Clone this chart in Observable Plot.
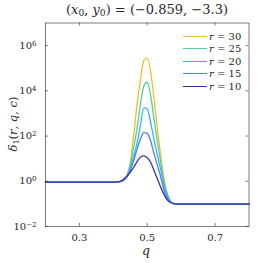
<!DOCTYPE html>
<html><head><meta charset="utf-8">
<script src="https://cdn.jsdelivr.net/npm/d3@7"></script>
<script src="https://cdn.jsdelivr.net/npm/@observablehq/plot@0.6"></script>
<style>
body{margin:0;background:#fff;}
#wrap{position:relative;width:275px;height:263px;font-family:"DejaVu Serif",serif;color:#262626;}
#title{position:absolute;top:2px;left:45px;width:204px;text-align:center;font-size:13px;white-space:nowrap;}
#ylab{position:absolute;left:13px;top:124px;transform:translate(-50%,-50%) rotate(-90deg);font-size:11.5px;white-space:nowrap;}
#xlab{position:absolute;left:146px;top:243px;transform:translateX(-50%);font-size:12.5px;font-style:italic;}
#legend{position:absolute;left:183px;top:30px;font-size:10px;}
.lrow{display:flex;align-items:center;height:12.5px;}
.lsw{width:24px;height:0;border-top:1.3px solid;margin-right:2px;}
i{font-style:italic;}
sub{font-size:0.7em;vertical-align:-0.25em;line-height:0;}
</style></head><body>
<div id="wrap">
<div id="title">(<i>x</i><sub>0</sub>, <i>y</i><sub>0</sub>) = (−0.859, −3.3)</div>
<div id="chart"></div>
<div id="ylab"><i>δ</i><sub>1</sub>(<i>r</i>, <i>q</i>, <i>c</i>)</div>
<div id="xlab">q</div>
<div id="legend"></div>
</div>
<script>
const q = [0.20, 0.30, 0.40, 0.41, 0.42, 0.43, 0.44, 0.45, 0.46, 0.47, 0.48, 0.49, 0.50, 0.51, 0.52, 0.53, 0.54, 0.55, 0.56, 0.57, 0.58, 0.59, 0.60, 0.70, 0.80];
const rValues = [30, 25, 20, 15, 10];
const colors = ["#F2BC2E", "#4FD49E", "#36B3EC", "#4F7DF6", "#3D33A6"];
// log10 of delta_1
const log10Delta_r30 = [-0.04, -0.04, -0.04, -0.035, -0.02, 0.04, 0.25, 0.85, 2.05, 3.4, 4.5, 5.35, 5.45, 4.85, 3.65, 2.3, 1.1, 0.05, -0.6, -0.9, -0.99, -1.01, -1.01, -1.01, -1.01];
const log10Delta_r25 = [-0.04, -0.04, -0.04, -0.035, -0.02, 0.04, 0.23, 0.72, 1.5, 2.35, 3.4, 4.22, 4.38, 3.8, 2.75, 1.75, 0.8, -0.1, -0.62, -0.91, -0.99, -1.01, -1.01, -1.01, -1.01];
const log10Delta_r20 = [-0.04, -0.04, -0.04, -0.035, -0.02, 0.04, 0.2, 0.58, 1.1, 1.7, 2.5, 3.25, 3.2, 2.6, 1.85, 1.15, 0.5, -0.2, -0.66, -0.92, -0.99, -1.01, -1.01, -1.01, -1.01];
const log10Delta_r15 = [-0.04, -0.04, -0.04, -0.035, -0.01, 0.06, 0.2, 0.48, 0.92, 1.42, 1.88, 2.15, 2.12, 1.78, 1.22, 0.7, 0.18, -0.42, -0.78, -0.94, -0.99, -1.01, -1.01, -1.01, -1.01];
const log10Delta_r10 = [-0.04, -0.04, -0.04, -0.03, 0.0, 0.09, 0.22, 0.39, 0.62, 0.87, 1.07, 1.12, 1.04, 0.84, 0.48, 0.1, -0.27, -0.6, -0.84, -0.95, -1.0, -1.01, -1.01, -1.01, -1.01];
const seriesLog = [log10Delta_r30, log10Delta_r25, log10Delta_r20, log10Delta_r15, log10Delta_r10];
const xTicks = [0.3, 0.5, 0.7];
const xTickLabels = ["0.3", "0.5", "0.7"];
const yTicks = [1e-2, 1e0, 1e2, 1e4, 1e6];
const yTickExponents = ["−2", "0", "2", "4", "6"];

const rows = [];
rValues.forEach((r, i) => {
  q.forEach((qq, j) => rows.push({r, q: qq, d: Math.pow(10, seriesLog[i][j])}));
});

const W = 275, H = 263, mL = 45, mR = 26.5, mT = 22.5, mB = 37;
const fw = W - mL - mR, fh = H - mT - mB;
const axisColor = "#262626";

const chart = Plot.plot({
  width: W, height: H,
  marginLeft: mL, marginRight: mR, marginTop: mT, marginBottom: mB,
  style: {fontFamily: "'DejaVu Serif', serif", fontSize: "10px", color: axisColor, background: "white"},
  x: {domain: [0.2, 0.8], ticks: xTicks, tickFormat: (d) => xTickLabels[xTicks.indexOf(d)], tickSize: 0, tickPadding: 7, label: null},
  y: {type: "log", domain: [1e-2, 1e7], ticks: yTicks, tickFormat: d => "10", tickSize: 0, tickPadding: 9, label: null},
  color: {domain: rValues, range: colors},
  marks: [
    Plot.line(rows, {x: "q", y: "d", z: "r", stroke: "r", strokeWidth: 1.3, curve: "monotone-x"}),
    Plot.tickY(yTicks, {y: d => d, insetRight: fw - 3, stroke: axisColor, strokeWidth: 0.6}),
    Plot.tickY(yTicks, {y: d => d, insetLeft: fw - 3, stroke: axisColor, strokeWidth: 0.6}),
    Plot.tickX(xTicks, {x: d => d, insetTop: fh - 3, stroke: axisColor, strokeWidth: 0.6}),
    Plot.tickX(xTicks, {x: d => d, insetBottom: fh - 3, stroke: axisColor, strokeWidth: 0.6}),
    Plot.frame({stroke: axisColor, strokeWidth: 0.6})
  ]
});
document.getElementById("chart").appendChild(chart);

// add superscript exponents to y tick labels
const yAxisTexts = chart.querySelectorAll('[aria-label="y-axis tick label"] text');
yAxisTexts.forEach((t, i) => {
  const sup = document.createElementNS("http://www.w3.org/2000/svg", "tspan");
  sup.setAttribute("dy", "-0.45em");
  sup.setAttribute("font-size", "7px");
  sup.textContent = yTickExponents[i];
  t.appendChild(sup);
});

// legend
const leg = document.getElementById("legend");
rValues.forEach((r, i) => {
  const row = document.createElement("div");
  row.className = "lrow";
  row.innerHTML = `<span class="lsw" style="border-color:${colors[i]}"></span><span><i>r</i> = ${r}</span>`;
  leg.appendChild(row);
});
</script>
</body></html>
